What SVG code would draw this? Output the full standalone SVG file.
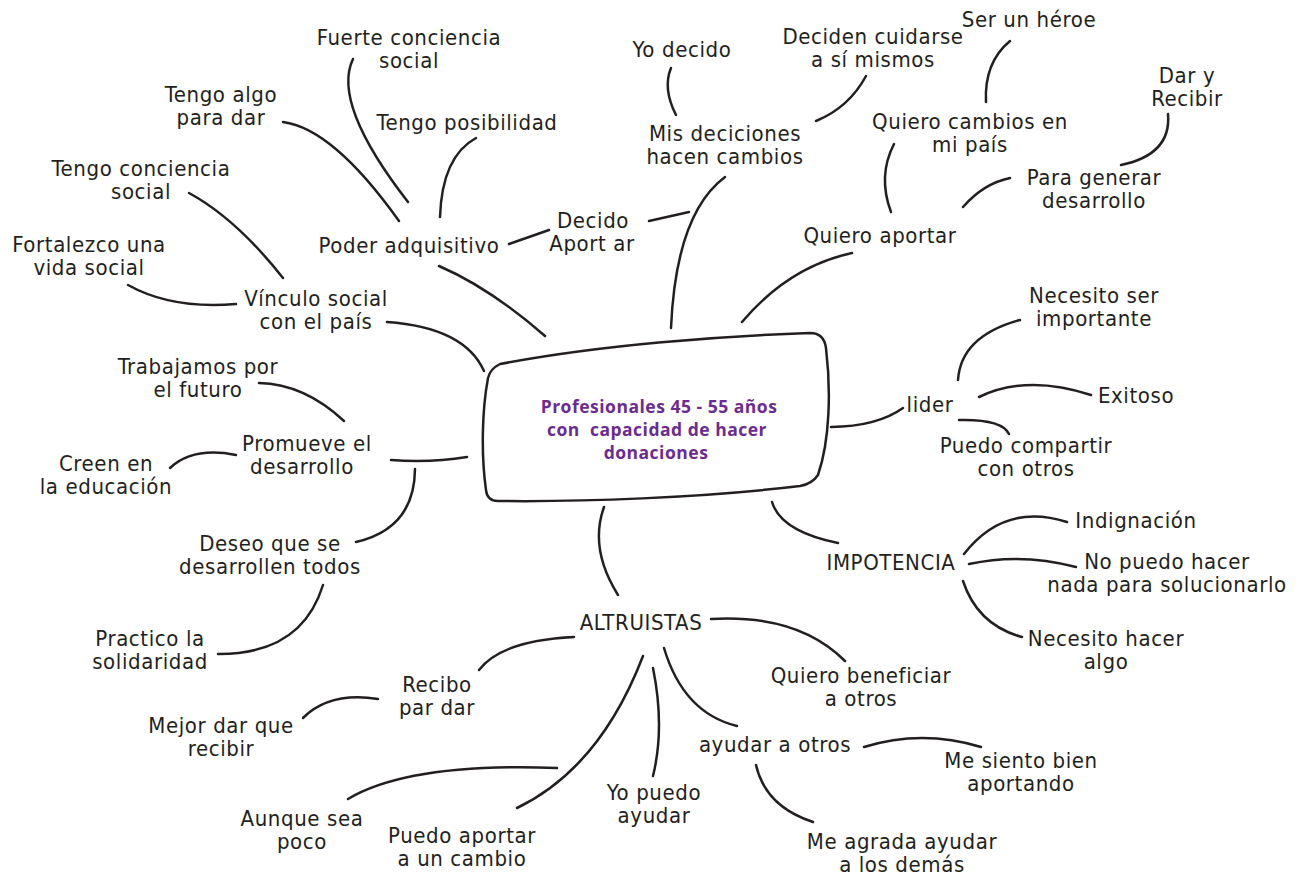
<svg xmlns="http://www.w3.org/2000/svg" width="1308" height="879" viewBox="0 0 1308 879">
<style>
.t{font-family:"DejaVu Sans Condensed","DejaVu Sans",sans-serif;font-stretch:condensed;font-size:22px;letter-spacing:0.6px;fill:#231f20;text-anchor:middle}
.c{fill:none;stroke:#231f20;stroke-width:2.5;stroke-linecap:round}
.ct{font-family:"Open Sans","Noto Sans",sans-serif;font-weight:700;font-size:17.5px;letter-spacing:0.5px;fill:#6b2c91;text-anchor:middle;white-space:pre}
</style>
<rect width="1308" height="879" fill="#ffffff"/>
<g id="connectors">
<path class="c" d="M283,122 Q333,128.5 399,221"/>
<path class="c" d="M353,59 Q331.5,103.5 408,202"/>
<path class="c" d="M476,138 Q442,156.5 440,217"/>
<path class="c" d="M189,193 Q236,218.5 283,278"/>
<path class="c" d="M128,285 Q172,309.5 236,304"/>
<path class="c" d="M439,266 Q490,288 545,336"/>
<path class="c" d="M509,244 L549,230"/>
<path class="c" d="M649,221 L689,212"/>
<path class="c" d="M387,322 Q464.5,327.5 484,371"/>
<path class="c" d="M671,68 Q662.5,88.5 676,115"/>
<path class="c" d="M866,76 Q849,107.5 816,121"/>
<path class="c" d="M1010,41 Q984,62.5 986,102"/>
<path class="c" d="M1168,114 Q1171.5,154.5 1121,165"/>
<path class="c" d="M894,144 Q877.5,176 891,212"/>
<path class="c" d="M1010,178 Q983.5,183.5 963,207"/>
<path class="c" d="M725,177 Q676,213.5 671,328"/>
<path class="c" d="M852,253 Q789,266.5 742,322"/>
<path class="c" d="M1020,320 Q961,336 958,380"/>
<path class="c" d="M831,427 Q877,426.5 903,408"/>
<path class="c" d="M979,397 Q1027,374 1091,395"/>
<path class="c" d="M959,420 Q1002,419 1009,434"/>
<path class="c" d="M772,502 Q781,531.5 838,543"/>
<path class="c" d="M964,554 Q1004.5,502 1067,522"/>
<path class="c" d="M969,564 Q1021.5,552.5 1076,567"/>
<path class="c" d="M963,581 Q977.5,625 1022,637"/>
<path class="c" d="M711,619 Q798,614 845,661"/>
<path class="c" d="M259,383 Q304.5,384 344,421"/>
<path class="c" d="M170,468 Q193,446.5 236,455"/>
<path class="c" d="M391,460 Q430,463 467,457"/>
<path class="c" d="M415,469 Q414.5,528.5 356,542"/>
<path class="c" d="M323,585 Q301.5,654.5 218,654"/>
<path class="c" d="M604,507 Q589,549 618,595"/>
<path class="c" d="M574,637 Q501.5,640.5 479,670"/>
<path class="c" d="M303,718 Q329.5,691.5 378,699"/>
<path class="c" d="M664,648 Q683.5,713 737,726"/>
<path class="c" d="M653,668 Q665,727 653,776"/>
<path class="c" d="M643,656 Q600,768 517,808"/>
<path class="c" d="M348,799 Q409.5,762.5 557,768"/>
<path class="c" d="M864,747 Q922,729 981,747"/>
<path class="c" d="M756,765 Q765.5,806.5 813,822"/>
</g>
<g id="center">
<path class="c" d="M500,364 C600,345 720,336 810,333 Q824,333 826,348 C831,390 830,440 818,475 Q812,484 800,486 C700,498 580,502 498,501 Q487,501 486,490 C481,455 482,410 488,378 Q490,369 500,364 Z"/>
<text class="ct" x="659" y="413">Profesionales 45 - 55 años</text>
<text class="ct" x="657" y="436">con  capacidad de hacer</text>
<text class="ct" x="656" y="459">donaciones</text>
</g>
<g id="n-fuerte"><text class="t" x="409" y="45">Fuerte conciencia</text><text class="t" x="409" y="68">social</text></g>
<g id="n-tengo-algo"><text class="t" x="221" y="102">Tengo algo</text><text class="t" x="221" y="125">para dar</text></g>
<g id="n-tengo-pos"><text class="t" x="467" y="130">Tengo posibilidad</text></g>
<g id="n-tengo-conc"><text class="t" x="141" y="176">Tengo conciencia</text><text class="t" x="141" y="199">social</text></g>
<g id="n-fortalezco"><text class="t" x="89" y="252">Fortalezco una</text><text class="t" x="89" y="275">vida social</text></g>
<g id="n-poder"><text class="t" x="409" y="253">Poder adquisitivo</text></g>
<g id="n-decido"><text class="t" x="593" y="228">Decido</text><text class="t" x="592" y="251">Aport ar</text></g>
<g id="n-vinculo"><text class="t" x="316" y="306">Vínculo social</text><text class="t" x="316" y="329">con el país</text></g>
<g id="n-yo-decido"><text class="t" x="682" y="57">Yo decido</text></g>
<g id="n-mis"><text class="t" x="725" y="141">Mis deciciones</text><text class="t" x="725" y="164">hacen cambios</text></g>
<g id="n-deciden"><text class="t" x="873" y="44">Deciden cuidarse</text><text class="t" x="873" y="67">a sí mismos</text></g>
<g id="n-heroe"><text class="t" x="1029" y="27">Ser un héroe</text></g>
<g id="n-dar"><text class="t" x="1187" y="83">Dar y</text><text class="t" x="1187" y="106">Recibir</text></g>
<g id="n-cambios"><text class="t" x="970" y="129">Quiero cambios en</text><text class="t" x="970" y="152">mi país</text></g>
<g id="n-generar"><text class="t" x="1094" y="185">Para generar</text><text class="t" x="1094" y="208">desarrollo</text></g>
<g id="n-aportar"><text class="t" x="880" y="243">Quiero aportar</text></g>
<g id="n-necesito-ser"><text class="t" x="1094" y="303">Necesito ser</text><text class="t" x="1094" y="326">importante</text></g>
<g id="n-lider"><text class="t" x="930" y="412">lider</text></g>
<g id="n-exitoso"><text class="t" x="1136" y="403">Exitoso</text></g>
<g id="n-compartir"><text class="t" x="1026" y="453">Puedo compartir</text><text class="t" x="1026" y="476">con otros</text></g>
<g id="n-indignacion"><text class="t" x="1136" y="528">Indignación</text></g>
<g id="n-impotencia"><text class="t" x="891" y="570">IMPOTENCIA</text></g>
<g id="n-no-puedo"><text class="t" x="1167" y="569">No puedo hacer</text><text class="t" x="1167" y="592">nada para solucionarlo</text></g>
<g id="n-necesito-hacer"><text class="t" x="1106" y="646">Necesito hacer</text><text class="t" x="1106" y="669">algo</text></g>
<g id="n-trabajamos"><text class="t" x="198" y="374">Trabajamos por</text><text class="t" x="198" y="397">el futuro</text></g>
<g id="n-promueve"><text class="t" x="307" y="451">Promueve el</text><text class="t" x="302" y="474">desarrollo</text></g>
<g id="n-creen"><text class="t" x="106" y="471">Creen en</text><text class="t" x="106" y="494">la educación</text></g>
<g id="n-deseo"><text class="t" x="270" y="551">Deseo que se</text><text class="t" x="270" y="574">desarrollen todos</text></g>
<g id="n-practico"><text class="t" x="150" y="646">Practico la</text><text class="t" x="150" y="669">solidaridad</text></g>
<g id="n-altruistas"><text class="t" x="641" y="630">ALTRUISTAS</text></g>
<g id="n-beneficiar"><text class="t" x="861" y="683">Quiero beneficiar</text><text class="t" x="861" y="706">a otros</text></g>
<g id="n-recibo"><text class="t" x="437" y="692">Recibo</text><text class="t" x="437" y="715">par dar</text></g>
<g id="n-mejor"><text class="t" x="221" y="733">Mejor dar que</text><text class="t" x="221" y="756">recibir</text></g>
<g id="n-ayudar"><text class="t" x="775" y="752">ayudar a otros</text></g>
<g id="n-siento"><text class="t" x="1021" y="768">Me siento bien</text><text class="t" x="1021" y="791">aportando</text></g>
<g id="n-aunque"><text class="t" x="302" y="826">Aunque sea</text><text class="t" x="302" y="849">poco</text></g>
<g id="n-puedo-aportar"><text class="t" x="462" y="843">Puedo aportar</text><text class="t" x="462" y="866">a un cambio</text></g>
<g id="n-yo-puedo"><text class="t" x="654" y="800">Yo puedo</text><text class="t" x="654" y="823">ayudar</text></g>
<g id="n-agrada"><text class="t" x="902" y="849">Me agrada ayudar</text><text class="t" x="902" y="872">a los demás</text></g>
</svg>
